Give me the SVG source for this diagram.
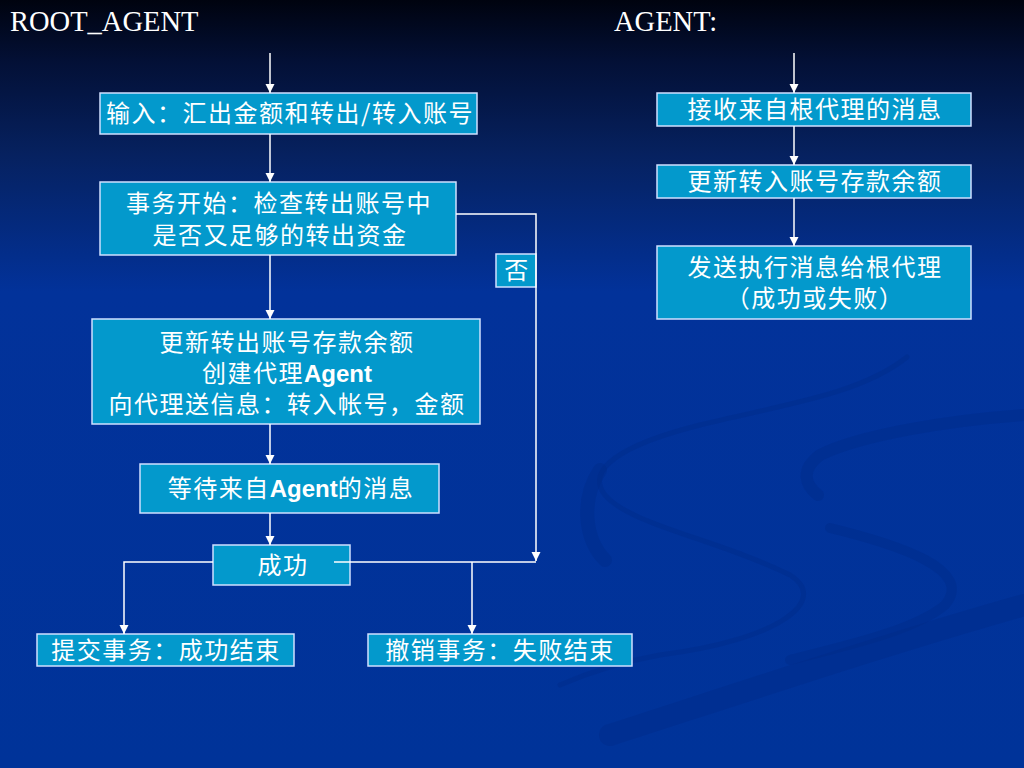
<svg xmlns="http://www.w3.org/2000/svg" width="1024" height="768" viewBox="0 0 1024 768">
<defs>
<linearGradient id="bg" x1="0" y1="0" x2="0" y2="1">
<stop offset="0" stop-color="#00030f"/>
<stop offset="0.08" stop-color="#031036"/>
<stop offset="0.2" stop-color="#06215f"/>
<stop offset="0.38" stop-color="#02329a"/>
<stop offset="1" stop-color="#003399"/>
</linearGradient>
<marker id="arr" markerUnits="userSpaceOnUse" markerWidth="9" markerHeight="10" viewBox="0 0 10 10" refX="10" refY="5" orient="auto">
<path d="M0,0 L10,5 L0,10 z" fill="#ffffff"/>
</marker>
<style>
.box{fill:#0399cc;stroke:#cfe0ff;stroke-width:1.5}
.t{font-family:"Noto Sans CJK SC","Noto Sans",sans-serif;font-size:24px;fill:#ffffff;text-anchor:middle;letter-spacing:1.5px}
.b{font-family:"Liberation Sans",Arial,sans-serif;font-weight:bold;letter-spacing:0}
.title{font-family:"Liberation Serif","Times New Roman",serif;font-size:28.5px;fill:#ffffff}
.c{fill:none;stroke:#ffffff;stroke-width:1.5}
.sw{fill:none;stroke:#002a88;stroke-linecap:round;opacity:0.4}
</style>
</defs>
<rect width="1024" height="768" fill="url(#bg)"/>
<g id="swirls">
<path class="sw" stroke-width="5" d="M907,357 C860,395 780,405 700,425 C620,445 585,470 605,495 C630,525 720,540 790,575 C830,600 780,640 660,655 C620,662 590,672 560,685"/>
<path class="sw" stroke-width="12" d="M1024,415 C950,420 860,435 820,455 C800,470 805,485 818,495"/>
<path class="sw" stroke-width="10" d="M830,528 C900,545 975,570 945,605 C915,630 850,645 790,660"/>
<path class="sw" stroke-width="22" d="M1024,605 C900,640 780,680 610,735"/>
<path class="sw" stroke-width="14" d="M600,470 C580,500 585,540 605,560"/>
</g>
<text class="title" x="10" y="31">ROOT_AGENT</text>
<text class="title" x="614" y="31">AGENT:</text>
<g id="n1"><rect class="box" x="100" y="93" width="377" height="41"/><text class="t" x="290" y="122">输入：汇出金额和转出/转入账号</text></g>
<g id="n2"><rect class="box" x="100" y="182" width="356" height="73"/><text class="t" x="279" y="212">事务开始：检查转出账号中</text><text class="t" x="280" y="244">是否又足够的转出资金</text></g>
<g id="n_no"><rect class="box" x="496" y="254" width="40" height="33"/><text class="t" x="517" y="279">否</text></g>
<g id="n3"><rect class="box" x="92" y="319" width="388" height="105"/><text class="t" x="287" y="351">更新转出账号存款余额</text><text class="t" x="287" y="382">创建代理<tspan class="b">Agent</tspan></text><text class="t" x="287" y="413">向代理送信息：转入帐号，金额</text></g>
<g id="n4"><rect class="box" x="140" y="464" width="299" height="49"/><text class="t" x="291" y="497">等待来自<tspan class="b">Agent</tspan>的消息</text></g>
<g id="n5"><rect class="box" x="213" y="545" width="137" height="40"/><text class="t" x="283" y="574">成功</text></g>
<g id="n6"><rect class="box" x="37" y="634" width="257" height="32"/><text class="t" x="166" y="659">提交事务：成功结束</text></g>
<g id="n7"><rect class="box" x="368" y="634" width="264" height="32"/><text class="t" x="500" y="659">撤销事务：失败结束</text></g>
<g id="a1"><rect class="box" x="657" y="93" width="314" height="33"/><text class="t" x="815" y="118">接收来自根代理的消息</text></g>
<g id="a2"><rect class="box" x="657" y="165" width="314" height="33"/><text class="t" x="815" y="190">更新转入账号存款余额</text></g>
<g id="a3"><rect class="box" x="657" y="246" width="314" height="73"/><text class="t" x="815" y="276">发送执行消息给根代理</text><text class="t" x="815" y="307">（成功或失败）</text></g>
<g id="connectors">
<line class="c" x1="270" y1="53" x2="270" y2="93" marker-end="url(#arr)"/>
<line class="c" x1="270" y1="134" x2="270" y2="182" marker-end="url(#arr)"/>
<line class="c" x1="270" y1="255" x2="270" y2="319" marker-end="url(#arr)"/>
<line class="c" x1="270" y1="424" x2="270" y2="464" marker-end="url(#arr)"/>
<line class="c" x1="270" y1="513" x2="270" y2="545" marker-end="url(#arr)"/>
<polyline class="c" points="456,214 536,214 536,561" marker-end="url(#arr)"/>
<polyline class="c" points="213,562 124,562 124,634" marker-end="url(#arr)"/>
<line class="c" x1="334" y1="562" x2="536" y2="562"/>
<line class="c" x1="472" y1="562" x2="472" y2="634" marker-end="url(#arr)"/>
<line class="c" x1="794" y1="53" x2="794" y2="93" marker-end="url(#arr)"/>
<line class="c" x1="794" y1="126" x2="794" y2="165" marker-end="url(#arr)"/>
<line class="c" x1="794" y1="198" x2="794" y2="246" marker-end="url(#arr)"/>
</g>
</svg>
